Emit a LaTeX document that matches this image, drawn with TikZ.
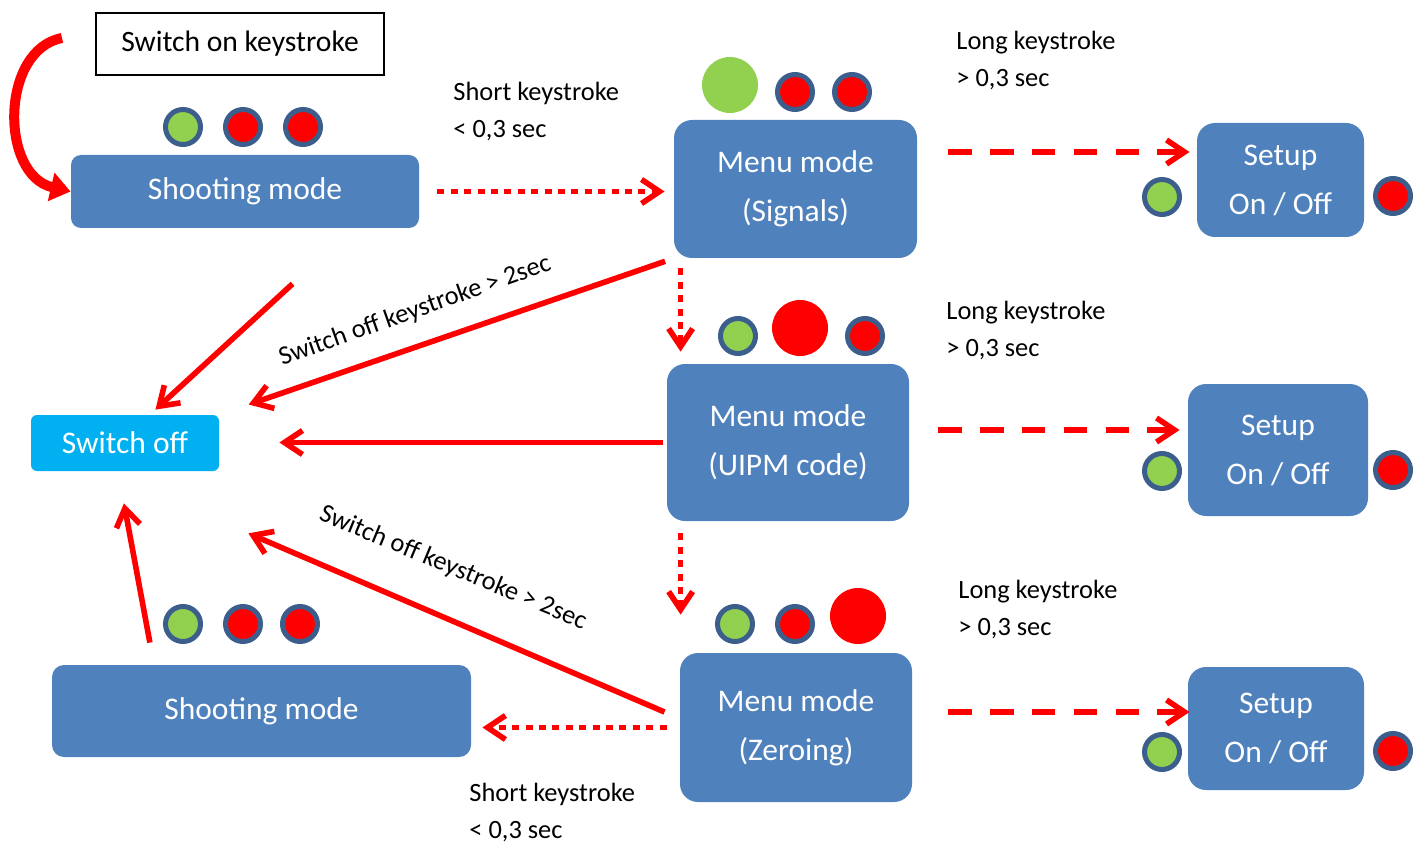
\documentclass[tikz,border=0pt]{standalone}
\usepackage{fontspec}
\setmainfont{Carlito}
\usepackage{tikz}
\usetikzlibrary{arrows.meta}
\definecolor{boxblue}{RGB}{79,129,189}
\definecolor{ringblue}{RGB}{59,94,140}
\definecolor{ledgreen}{RGB}{146,208,80}
\definecolor{offblue}{RGB}{0,176,240}

\tikzset{
    mode/.style={fill=boxblue,text=white,rounded corners=9pt,align=center,inner sep=0pt,
        font=\fontsize{15.75}{24.5}\selectfont},
    led/.style={circle,draw=ringblue,line width=2.5pt,minimum size=17.5pt,inner sep=0pt},
    bigled/.style={circle,minimum size=28pt,inner sep=0pt},
    note/.style={align=left,anchor=west,inner sep=0pt,font=\fontsize{13.2}{18.5}\selectfont},
    hold/.style={red,line width=2.8pt,->},
    tap/.style={hold,dash pattern=on 3.5pt off 3.2pt},
    press/.style={hold,dash pattern=on 11.7pt off 9.2pt}
}

\begin{document}
\begin{tikzpicture}[x=0.5pt,y=-0.5pt,>={Straight Barb[length=9pt,width=12pt]}]
    \useasboundingbox (0,0) rectangle (1413,845);

    \node[draw,line width=0.7pt,minimum width=144pt,minimum height=31pt,inner sep=0pt,
        font=\fontsize{14.8}{17}\selectfont] (son) at (240,44) {Switch on keystroke};
    \coordinate (on) at (62,38);

    \node[mode,rounded corners=5pt,minimum width=174pt,minimum height=36.5pt] (shoot1) at (245,191.5) {Shooting mode};
    \node[mode,minimum width=121.5pt,minimum height=69pt] (sig) at (795.5,189) {Menu mode\\(Signals)};
    \node[mode,minimum width=83.5pt,minimum height=57pt] (setup1) at (1280.5,180) {Setup\\On / Off};
    \node[mode,minimum width=121pt,minimum height=78.5pt] (uipm) at (788,442.5) {Menu mode\\(UIPM code)};
    \node[mode,minimum width=90pt,minimum height=66pt] (setup2) at (1278,450) {Setup\\On / Off};
    \node[mode,fill=offblue,rounded corners=3pt,minimum width=94pt,minimum height=28pt] (off) at (125,443) {Switch off};
    \node[mode,minimum width=116pt,minimum height=74.5pt] (zero) at (796,727.5) {Menu mode\\(Zeroing)};
    \node[mode,minimum width=88pt,minimum height=61.5pt] (setup3) at (1276,728.5) {Setup\\On / Off};
    \node[mode,rounded corners=6pt,minimum width=209.5pt,minimum height=46pt] (shoot2) at (261.5,711) {Shooting mode};

    % lamps
    \node[led,fill=ledgreen] (s1a) at (183,127) {};
    \node[led,fill=red] (s1b) at (243,127) {};
    \node[led,fill=red] (s1c) at (303,127) {};
    \node[bigled,fill=ledgreen] (siga) at (730,85) {};
    \node[led,fill=red] (sigb) at (795,92) {};
    \node[led,fill=red] (sigc) at (852,92) {};
    \node[led,fill=ledgreen] (u1a) at (1162,197) {};
    \node[led,fill=red] (u1b) at (1393,196) {};
    \node[led,fill=ledgreen] (uipma) at (738,336) {};
    \node[bigled,fill=red] (uipmb) at (800,328) {};
    \node[led,fill=red] (uipmc) at (865,336) {};
    \node[led,fill=ledgreen] (u2a) at (1162,471) {};
    \node[led,fill=red] (u2b) at (1393,470) {};
    \node[led,fill=ledgreen] (zeroa) at (735,624) {};
    \node[led,fill=red] (zerob) at (795,624) {};
    \node[bigled,fill=red] (zeroc) at (858,616) {};
    \node[led,fill=ledgreen] (u3a) at (1162,752) {};
    \node[led,fill=red] (u3b) at (1393,751) {};
    \node[led,fill=ledgreen] (s2a) at (183,624) {};
    \node[led,fill=red] (s2b) at (243,624) {};
    \node[led,fill=red] (s2c) at (300,624) {};

    % labels
    \node[note] (short1) at (453,112) {Short keystroke\\< 0,3 sec};
    \node[note] (long1) at (956,60.5) {Long keystroke\\> 0,3 sec};
    \node[note] (long2) at (946,330.5) {Long keystroke\\> 0,3 sec};
    \node[note] (long3) at (958,609.5) {Long keystroke\\> 0,3 sec};
    \node[note] (short2) at (469,813) {Short keystroke\\< 0,3 sec};
    \node[note,anchor=center,rotate=19.5] (offup) at (415,311) {Switch off keystroke > 2sec};
    \node[note,anchor=center,rotate=-22.5] (offdown) at (453,568) {Switch off keystroke > 2sec};

    % transitions
    \draw[red,line width=5pt,-{Triangle[length=10pt,width=14pt]}] (on) .. controls (0,50) and (0,175) .. (shoot1.west);
    \draw[tap,shorten <=9pt,shorten >=4.5pt] (shoot1.east) -- (shoot1.east -| sig.west);
    \draw[press,shorten <=15.5pt,shorten >=3.5pt] ([yshift=18.5pt]sig.east) -- ([yshift=18.5pt]sig.east -| setup1.west);
    \draw[press,shorten <=14.5pt,shorten >=4pt] ([yshift=6.25pt]uipm.east) -- ([yshift=6.25pt]uipm.east -| setup2.west);
    \draw[press,shorten <=18pt,shorten >=-1pt] ([yshift=7.75pt]zero.east) -- ([yshift=7.75pt]zero.east -| setup3.west);
    \draw[tap,shorten <=5pt,shorten >=6pt] ([xshift=3.5pt]sig.south west) -- ([xshift=3.5pt]sig.south west |- uipm.north);
    \draw[tap,shorten <=6pt,shorten >=19pt] ([xshift=7pt]uipm.south west) -- ([xshift=7pt]uipm.south west |- zero.north);
    \draw[tap,shorten <=6.5pt,shorten >=5.5pt] (zero.west) -- (zero.west -| shoot2.east);
    \draw[hold,shorten <=41pt,shorten >=3.7pt] ([xshift=54pt]shoot1.south) -- ([xshift=12.5pt]off.north);
    \draw[hold,shorten <=4.5pt,shorten >=15.5pt] (sig.south west) -- (off.north east);
    \draw[hold,shorten <=2pt,shorten >=30pt] (uipm.west) -- (uipm.west -| off.east);
    \draw[hold,shorten <=8.2pt,shorten >=15.8pt] ([yshift=4.5pt]zero.west) -- ([yshift=-24.75pt]off.south east);
    \draw[hold,shorten <=11.2pt,shorten >=16.3pt] ([xshift=-53.75pt]shoot2.north) -- ([xshift=-3.5pt]off.south);
\end{tikzpicture}
\end{document}
